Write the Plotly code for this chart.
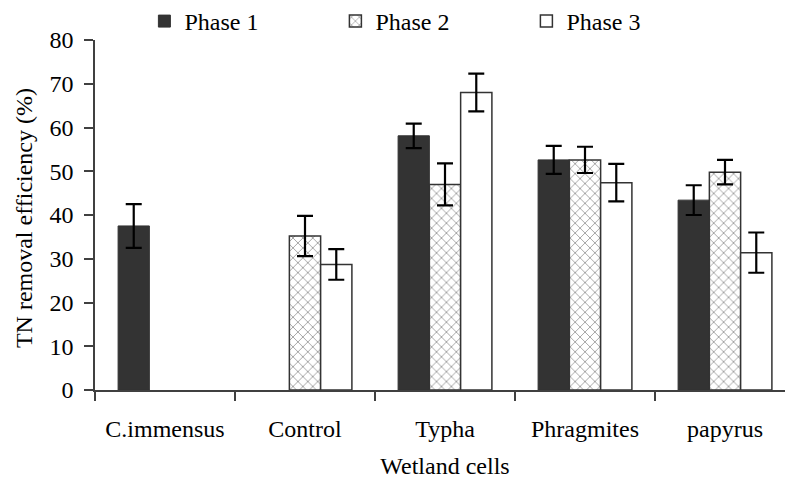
import plotly.graph_objects as go

categories = ["C.immensus", "Control", "Typha", "Phragmites", "papyrus"]
phase1 = [37.5, None, 58.1, 52.6, 43.4]
phase1_err = [5.0, None, 2.8, 3.2, 3.4]
phase2 = [None, 35.2, 47.0, 52.6, 49.8]
phase2_err = [None, 4.6, 4.8, 3.0, 2.8]
phase3 = [None, 28.7, 68.0, 47.4, 31.4]
phase3_err = [None, 3.5, 4.3, 4.3, 4.6]
y_ticks = [0, 10, 20, 30, 40, 50, 60, 70, 80]

FONT = "Liberation Serif"
err_style = dict(type="data", visible=True, color="black", thickness=2.2, width=8)

fig = go.Figure()
fig.add_trace(go.Bar(
    name="Phase 1", x=categories, y=phase1,
    error_y=dict(array=phase1_err, **err_style),
    marker=dict(color="#333333", line=dict(color="#333333", width=1)),
))
fig.add_trace(go.Bar(
    name="Phase 2", x=categories, y=phase2,
    error_y=dict(array=phase2_err, **err_style),
    marker=dict(color="white", line=dict(color="#333333", width=1.5),
                pattern=dict(shape="x", fgcolor="#444444", bgcolor="white",
                             size=7, solidity=0.25)),
))
fig.add_trace(go.Bar(
    name="Phase 3", x=categories, y=phase3,
    error_y=dict(array=phase3_err, **err_style),
    marker=dict(color="white", line=dict(color="#333333", width=1.5)),
))

fig.update_layout(
    width=793, height=482,
    margin=dict(l=87, r=6, t=32, b=100, autoexpand=False),
    plot_bgcolor="white", paper_bgcolor="white",
    font=dict(family=FONT, size=24, color="black"),
    barmode="group", bargap=0.33, bargroupgap=0,
    showlegend=True,
    legend=dict(orientation="h", xref="container", yref="container",
                x=0.172, y=0.972, xanchor="left", yanchor="middle",
                entrywidth=146, entrywidthmode="pixels",
                itemwidth=30, font=dict(size=24, family=FONT),
                bgcolor="rgba(0,0,0,0)", traceorder="normal"),
    xaxis=dict(
        title=dict(text="Wetland cells", font=dict(size=24), standoff=17),
        showline=True, linecolor="#404040", linewidth=1.5,
        ticks="outside", ticklen=9, tickcolor="#404040", tickwidth=1.5,
        tickson="boundaries", ticklabelstandoff=16,
        showgrid=False, range=[-0.5, 4.5], automargin=False,
    ),
    yaxis=dict(
        range=[0, 80], tickvals=y_ticks,
        showline=True, linecolor="#404040", linewidth=1.5,
        ticks="outside", ticklen=9, tickcolor="#404040", tickwidth=1.5,
        ticklabelstandoff=6,
        showgrid=False, zeroline=False, automargin=False,
    ),
    annotations=[dict(
        text="TN removal efficiency (%)", textangle=-90,
        xref="paper", yref="paper", x=-0.102, y=0.49,
        xanchor="center", yanchor="middle", showarrow=False,
        font=dict(size=24, family=FONT),
    )],
)

fig.write_html("out.html")
